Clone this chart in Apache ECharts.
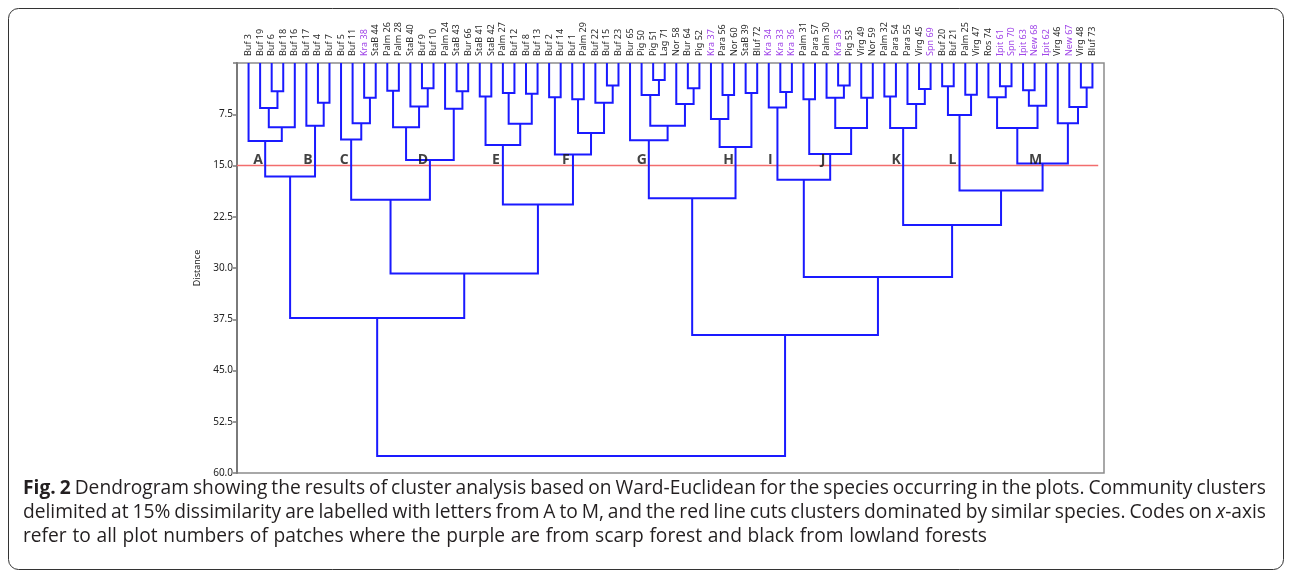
<!DOCTYPE html>
<html>
<head>
<meta charset="utf-8">
<script src="https://cdn.jsdelivr.net/npm/echarts@6/dist/echarts.min.js"></script>
<style>
  html, body { margin: 0; padding: 0; background: #fff; }
  #chart { width: 1292px; height: 578px; }
</style>
</head>
<body>
<div id="chart"></div>
<script>
// leaf order along the top of the dendrogram
const leaves = [
  'Buf 3', 'Buf 19', 'Buf 6', 'Buf 18', 'Buf 16', 'Buf 17', 'Buf 4', 'Buf 7', 'Buf 5', 'Buf 11',
  'Kra 38', 'StaB 44', 'Palm 26', 'Palm 28', 'StaB 40', 'Buf 9', 'Buf 10', 'Palm 24', 'StaB 43', 'Bur 66',
  'StaB 41', 'StaB 42', 'Palm 27', 'Buf 12', 'Buf 8', 'Buf 13', 'Buf 2', 'Buf 14', 'Buf 1', 'Palm 29',
  'Buf 22', 'Buf 15', 'Buf 23', 'Bur 65', 'Pig 50', 'Pig 51', 'Lag 71', 'Nor 58', 'Bur 64', 'Pig 52',
  'Kra 37', 'Para 56', 'Nor 60', 'StaB 39', 'Bluf 72', 'Kra 34', 'Kra 33', 'Kra 36', 'Palm 31', 'Para 57',
  'Palm 30', 'Kra 35', 'Pig 53', 'Virg 49', 'Nor 59', 'Palm 32', 'Para 54', 'Para 55', 'Virg 45', 'Spn 69',
  'Buf 20', 'Buf 21', 'Palm 25', 'Virg 47', 'Ros 74', 'Ipit 61', 'Spn 70', 'Ipit 63', 'New 68', 'Ipit 62',
  'Virg 46', 'New 67', 'Virg 48', 'Bluf 73'
];

// plots from scarp forest (purple), the rest are lowland
const scarpPlots = ['Kra 38', 'Kra 37', 'Kra 34', 'Kra 33', 'Kra 36', 'Kra 35', 'Spn 69',
  'Ipit 61', 'Spn 70', 'Ipit 63', 'New 68', 'Ipit 62', 'New 67'];

// merges: [id, left, right, distance]; numbers are leaf indexes, strings are earlier merges
const merges = [
  ['a1', 2, 3, 4.15], ['a2', 1, 'a1', 6.6], ['a3', 'a2', 4, 9.4], ['A', 0, 'a3', 11.4],
  ['b1', 6, 7, 5.8], ['B', 5, 'b1', 9.2],
  ['AB', 'A', 'B', 16.6],
  ['c1', 10, 11, 5.1], ['c2', 9, 'c1', 8.8], ['C', 8, 'c2', 11.2],
  ['d1', 12, 13, 4.05], ['d2', 15, 16, 3.7], ['d3', 14, 'd2', 6.35], ['d4', 'd1', 'd3', 9.4],
  ['d5', 18, 19, 4.15], ['d6', 17, 'd5', 6.7], ['D', 'd4', 'd6', 14.2],
  ['CD', 'C', 'D', 20.0],
  ['e1', 20, 21, 4.9], ['e2', 22, 23, 4.4], ['e3', 24, 25, 4.5], ['e4', 'e2', 'e3', 8.9], ['E', 'e1', 'e4', 12.0],
  ['f1', 26, 27, 5.0], ['f2', 28, 29, 5.3], ['f3', 31, 32, 3.3], ['f4', 30, 'f3', 5.8],
  ['f5', 'f2', 'f4', 10.25], ['F', 'f1', 'f5', 13.4],
  ['EF', 'E', 'F', 20.7],
  ['CDEF', 'CD', 'EF', 30.8],
  ['left', 'AB', 'CDEF', 37.3],
  ['g1', 35, 36, 2.5], ['g2', 34, 'g1', 4.7], ['g3', 38, 39, 3.7], ['g4', 37, 'g3', 6.0],
  ['g5', 'g2', 'g4', 9.2], ['G', 33, 'g5', 11.3],
  ['h1', 41, 42, 4.7], ['h2', 40, 'h1', 8.2], ['h3', 43, 44, 4.4], ['H', 'h2', 'h3', 12.3],
  ['GH', 'G', 'H', 19.8],
  ['i1', 46, 47, 4.25], ['I', 45, 'i1', 6.5],
  ['j1', 48, 49, 5.3], ['j2', 51, 52, 3.3], ['j3', 50, 'j2', 5.1], ['j4', 53, 54, 5.1],
  ['j5', 'j3', 'j4', 9.5], ['J', 'j1', 'j5', 13.3],
  ['IJ', 'I', 'J', 17.1],
  ['k1', 55, 56, 4.9], ['k2', 58, 59, 3.8], ['k3', 57, 'k2', 6.0], ['K', 'k1', 'k3', 9.5],
  ['l1', 60, 61, 3.4], ['l2', 62, 63, 4.65], ['L', 'l1', 'l2', 7.6],
  ['m1', 65, 66, 3.4], ['m2', 64, 'm1', 5.0], ['m3', 67, 68, 4.0], ['m4', 'm3', 69, 6.25],
  ['m5', 'm2', 'm4', 9.5], ['m6', 72, 73, 3.6], ['m7', 71, 'm6', 6.45], ['m8', 70, 'm7', 8.8],
  ['M', 'm5', 'm8', 14.7],
  ['LM', 'L', 'M', 18.65],
  ['KLM', 'K', 'LM', 23.7],
  ['IJKLM', 'IJ', 'KLM', 31.3],
  ['right', 'GH', 'IJKLM', 39.8],
  ['root', 'left', 'right', 57.5]
];

const clusterLetters = ['A', 'B', 'C', 'D', 'E', 'F', 'G', 'H', 'I', 'J', 'K', 'L', 'M'];
const cutLevel = 15;
const yMax = 60;
const yStep = 7.5;

const captionLines = [
  [['Fig. 2', 'bold'], [' Dendrogram showing the results of cluster analysis based on Ward-Euclidean for the species occurring in the plots. Community clusters', 'normal']],
  [['delimited at 15% dissimilarity are labelled with letters from A to M, and the red line cuts clusters dominated by similar species. Codes on ', 'normal'], ['x', 'italic'], ['-axis', 'normal']],
  [['refer to all plot numbers of patches where the purple are from scarp forest and black from lowland forests', 'normal']]
];

// node positions: leaves at their index, merges midway between children
const nodeX = {}, nodeH = {};
leaves.forEach((l, i) => { nodeX[i] = i; nodeH[i] = 0; });
const links = [];
merges.forEach(([id, a, b, h]) => {
  nodeX[id] = (nodeX[a] + nodeX[b]) / 2;
  nodeH[id] = h;
  links.push([nodeX[a], nodeH[a], nodeX[b], nodeH[b], h]);
});

const letterLevel = 14.2;
const letterData = clusterLetters.map(c => [nodeX[c], letterLevel, c]);

// caption, justified like the journal layout
const capFamily = '"Open Sans", "Noto Sans", sans-serif';
const capSize = 19.2;
const capLeft = 23, capRight = 1266;
const measure = document.createElement('canvas').getContext('2d');
function fontOf(style) {
  const w = style === 'bold' ? 'bold ' : '';
  const s = style === 'italic' ? 'italic ' : '';
  return s + w + capSize + 'px ' + capFamily;
}
function textWidth(t, style) {
  measure.font = fontOf(style);
  return measure.measureText(t).width;
}
const captionGraphics = [];
captionLines.forEach((parts, li) => {
  const words = [];
  let cur = [];
  parts.forEach(([text, style]) => {
    text.split(' ').forEach((p, k) => {
      if (k > 0) { if (cur.length) words.push(cur); cur = []; }
      if (p) cur.push([p, style]);
    });
  });
  if (cur.length) words.push(cur);
  const widths = words.map(w => w.reduce((s, [t, st]) => s + textWidth(t, st), 0));
  const total = widths.reduce((s, v) => s + v, 0);
  const justify = li < captionLines.length - 1;
  const gap = justify ? (capRight - capLeft - total) / (words.length - 1) : textWidth(' ', 'normal') * 1.15;
  let x = capLeft;
  const y = 489 + li * 24;
  words.forEach((w, wi) => {
    let sx = x;
    w.forEach(([t, st]) => {
      captionGraphics.push({
        type: 'text', x: sx, y: y,
        style: {
          text: t, fill: '#231f20', fontSize: capSize, fontFamily: capFamily,
          fontWeight: st === 'bold' ? 'bold' : 'normal',
          fontStyle: st === 'italic' ? 'italic' : 'normal',
          verticalAlign: 'middle', align: 'left'
        }
      });
      sx += textWidth(t, st);
    });
    x += widths[wi] + gap;
  });
});

const chart = echarts.init(document.getElementById('chart'));
chart.setOption({
  animation: false,
  backgroundColor: '#fff',
  grid: {
    left: 237, right: 188, top: 63, bottom: 105,
    show: true, borderColor: '#8c8c8c', borderWidth: 1.5,
    outerBoundsMode: 'none'
  },
  xAxis: {
    type: 'value', position: 'top',
    min: -1, max: leaves.length, interval: 1,
    axisLine: { show: false }, axisTick: { show: false }, splitLine: { show: false },
    axisLabel: {
      rotate: 90, margin: 7, fontSize: 9, fontFamily: 'Noto Sans',
      formatter: v => {
        const name = leaves[Math.round(v)];
        if (name === undefined) return '';
        return scarpPlots.includes(name) ? '{p|' + name + '}' : '{k|' + name + '}';
      },
      rich: {
        k: { color: '#2b2b2b', fontSize: 9, fontFamily: 'Noto Sans' },
        p: { color: '#a046e8', fontSize: 9, fontFamily: 'Noto Sans' }
      }
    }
  },
  yAxis: {
    type: 'value', inverse: true,
    min: 0, max: yMax, interval: yStep,
    name: 'Distance', nameLocation: 'middle', nameGap: 20,
    nameTextStyle: { fontSize: 9, color: '#222', fontFamily: 'Noto Sans' },
    axisLine: { show: true, onZero: false, lineStyle: { color: '#7a7a7a', width: 2 } },
    axisTick: { show: true, length: 4, lineStyle: { color: '#7a7a7a', width: 1.5 } },
    splitLine: { show: false },
    axisLabel: {
      fontSize: 10, color: '#222', fontFamily: 'Noto Sans', margin: 4,
      formatter: v => v === 0 ? '' : v.toFixed(1)
    }
  },
  series: [
    {
      type: 'line', silent: true, symbol: 'none', z: 1,
      data: [[-1, cutLevel], [leaves.length - 0.5, cutLevel]],
      lineStyle: { color: '#f26d6d', width: 1.5 }
    },
    {
      type: 'custom', silent: true, z: 2,
      data: links,
      encode: { x: [0, 2], y: [1, 3, 4] },
      renderItem: (params, api) => {
        const p1 = api.coord([api.value(0), api.value(1)]);
        const p2 = api.coord([api.value(0), api.value(4)]);
        const p3 = api.coord([api.value(2), api.value(4)]);
        const p4 = api.coord([api.value(2), api.value(3)]);
        return {
          type: 'polyline',
          shape: { points: [p1, p2, p3, p4] },
          style: { stroke: '#1a1aff', lineWidth: 2, fill: null }
        };
      }
    },
    {
      type: 'scatter', silent: true, z: 3,
      symbolSize: 1, itemStyle: { color: 'rgba(0,0,0,0)' },
      data: letterData,
      label: {
        show: true, position: 'inside', offset: [-7, 0],
        formatter: p => p.data[2],
        fontSize: 14, fontWeight: 'bold', color: '#111', fontFamily: 'Open Sans'
      }
    }
  ],
  graphic: [
    {
      type: 'rect', silent: true,
      shape: { x: 8.5, y: 8.5, width: 1275, height: 561, r: 10 },
      style: { fill: 'none', stroke: '#333', lineWidth: 1 }
    }
  ].concat(captionGraphics)
});
</script>
</body>
</html>
